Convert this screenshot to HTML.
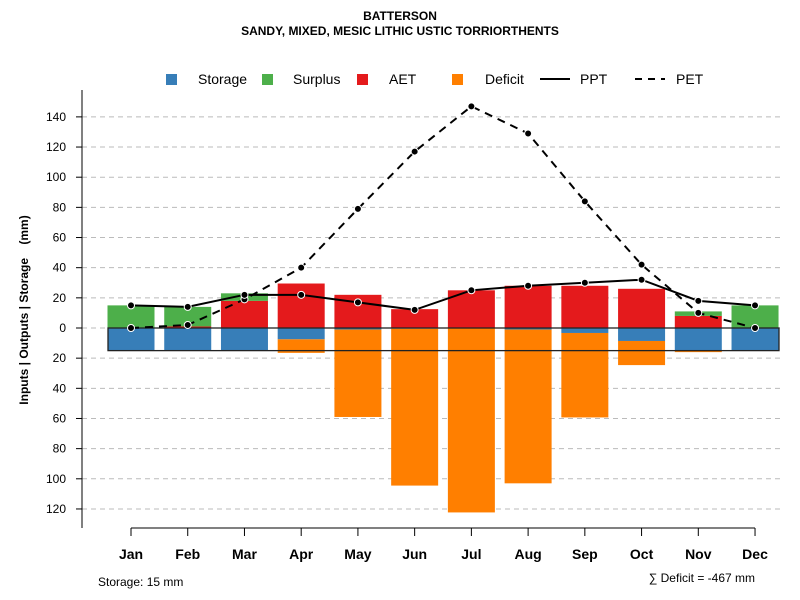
<!DOCTYPE html>
<html><head><meta charset="utf-8"><style>
body{margin:0;background:#fff;}
svg{display:block;font-family:"Liberation Sans",Arial,sans-serif;}
</style></head><body>
<svg id="chart" width="800" height="600"></svg>
<script>
const months=["Jan","Feb","Mar","Apr","May","Jun","Jul","Aug","Sep","Oct","Nov","Dec"];
const aet=[0,1,18,29.5,22,12.5,25,28,28,26,8,0];
const surplus=[15,13,5,0,0,0,0,0,0,0,3,15];
const storage=[15,15,15,7.5,1,0.5,0.3,1,3.3,8.6,15,15];
const deficit=[0,0,0,9,58,104,122,102,56,16,1,0];
const ppt=[15,14,22,22,17,12,25,28,30,32,18,15];
const pet=[0,2,19,40,79,117,147,129,84,42,10,0];
const yTicks=[140,120,100,80,60,40,20,0,-20,-40,-60,-80,-100,-120];
const NS="http://www.w3.org/2000/svg";
const svg=document.getElementById('chart');
const y=v=>328-v*1.508;
const x=i=>131+i*56.73;
function mk(t,a,txt){const e=document.createElementNS(NS,t);for(const k in a)e.setAttribute(k,a[k]);if(txt!==undefined)e.textContent=txt;svg.appendChild(e);return e;}
let e;
e=mk('text',{x:400,y:20,'text-anchor':'middle','font-size':12,'font-weight':'bold'},'BATTERSON');

e=mk('text',{x:400,y:35,'text-anchor':'middle','font-size':12,'font-weight':'bold'},'SANDY, MIXED, MESIC LITHIC USTIC TORRIORTHENTS');

yTicks.forEach(v=>{
 e=mk('line',{x1:82,x2:780,y1:y(v),y2:y(v),stroke:'#bbb','stroke-dasharray':'5,4'});
 
 e=mk('line',{x1:76,x2:82,y1:y(v),y2:y(v),stroke:'#000'});
 
 e=mk('text',{x:66,y:y(v)+4,'text-anchor':'end','font-size':12},Math.abs(v));
 
});
e=mk('line',{x1:82,x2:82,y1:90,y2:528,stroke:'#000'});

e=mk('text',{x:28,y:310,'text-anchor':'middle','font-size':12,'font-weight':'bold',transform:'rotate(-90 28 310)',style:'white-space:pre'},'Inputs | Outputs | Storage    (mm)');

const bw=47;
months.forEach((m,i)=>{
 const cx=x(i);
 let r;
 r=mk('rect',{x:cx-bw/2,y:y(aet[i]),width:bw,height:aet[i]*1.508,fill:'#e41a1c'});
 
 r=mk('rect',{x:cx-bw/2,y:y(aet[i]+surplus[i]),width:bw,height:surplus[i]*1.508,fill:'#4daf4a'});
 
 r=mk('rect',{x:cx-bw/2,y:y(0),width:bw,height:storage[i]*1.508,fill:'#377eb8'});
 
 r=mk('rect',{x:cx-bw/2,y:y(-storage[i]),width:bw,height:deficit[i]*1.508,fill:'#ff7f00'});
 
 r=mk('line',{x1:cx,x2:cx,y1:528,y2:536,stroke:'#000'});
 
 r=mk('text',{x:cx,y:559,'text-anchor':'middle','font-size':14,'font-weight':'bold'},m);
 
});
e=mk('rect',{x:108,y:y(0),width:671,height:15*1.508,fill:'none',stroke:'#222','stroke-width':1.3});

e=mk('line',{x1:131,x2:755,y1:528,y2:528,stroke:'#000'});

function series(vals,dash,name){
 const p=mk('polyline',{points:vals.map((v,i)=>x(i)+','+y(v)).join(' '),fill:'none',stroke:'#000','stroke-width':2,'stroke-dasharray':dash});
 
 vals.forEach((v,i)=>{const c=mk('circle',{cx:x(i),cy:y(v),r:3.5,fill:'#000',stroke:'#fff','stroke-width':1});
 });
}
series(pet,'8,6','pet');
series(ppt,'none','ppt');
const leg=[['sq','#377eb8',171,'Storage',198],['sq','#4daf4a',267,'Surplus',293],['sq','#e41a1c',362,'AET',389],['sq','#ff7f00',457,'Deficit',485],['ln','none',540,'PPT',580],['ln','7,6',635,'PET',676]];
leg.forEach(l=>{
 if(l[0]==='sq'){e=mk('rect',{x:l[2]-5,y:74,width:11,height:11,fill:l[1]});}
 else{e=mk('line',{x1:l[2],x2:l[2]+30,y1:79,y2:79,stroke:'#000','stroke-width':2,'stroke-dasharray':l[1]});}
 
 e=mk('text',{x:l[4],y:84,'font-size':14},l[3]);
 
});
e=mk('text',{x:98,y:586,'font-size':12},'Storage: 15 mm');

e=mk('text',{x:755,y:582,'text-anchor':'end','font-size':12},'∑ Deficit = -467 mm');

</script>
</body></html>
